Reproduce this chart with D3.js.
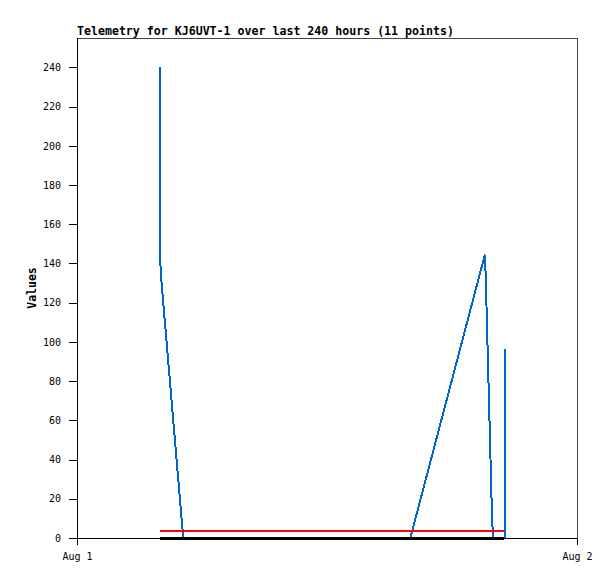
<!DOCTYPE html>
<html>
<head>
<meta charset="utf-8">
<script src="https://cdn.jsdelivr.net/npm/d3@7"></script>
<style>
  html, body { margin: 0; padding: 0; background: #fff; }
  svg { display: block; }
  text { font-family: "DejaVu Sans Mono", "Liberation Mono", monospace; }
</style>
</head>
<body>
<svg id="chart" width="615" height="579"></svg>
<script>
// ---- data (hours after Aug 1 00:00) ----
const titleText = "Telemetry for KJ6UVT-1 over last 240 hours (11 points)";
const yLabel = "Values";
const xTickLabels = ["Aug 1", "Aug 2"];
const yTicks = [0, 20, 40, 60, 80, 100, 120, 140, 160, 180, 200, 220, 240];

const blueHours  = [4.00, 4.00, 4.02, 5.10, 16.00, 19.58, 19.62, 19.92, 19.97, 20.55, 20.55];
const blueValues = [240,  141,  135,  0,    0,     144.5, 133,   11,    0,     0,     96.5];

const redHours   = [4.00, 20.50];
const redValues  = [3.6,  3.6];

const blackHours  = [4.00, 20.50];
const blackValues = [0,    0];

// ---- layout ----
const margin = { left: 77, top: 38, right: 38, bottom: 41 };
const W = 615, H = 579;
const iw = W - margin.left - margin.right;   // 500
const ih = H - margin.top - margin.bottom;   // 500

const t0 = Date.UTC(2023, 7, 1);
const toDate = h => new Date(t0 + h * 3600 * 1000);

const x = d3.scaleUtc().domain([toDate(0), toDate(24)]).range([0, iw]);
const y = d3.scaleLinear().domain([0, 255]).range([ih, 0]);

const svg = d3.select("#chart");
const g = svg.append("g").attr("transform", `translate(${margin.left},${margin.top})`);

// frame top/right
g.append("path")
  .attr("d", `M0.5,0.5H${iw + 0.5}V${ih}`)
  .attr("fill", "none").attr("stroke", "#444").attr("stroke-width", 1)
  .attr("shape-rendering", "crispEdges");

// series
const line = d3.line().x(d => x(toDate(d[0]))).y(d => y(d[1]));
function series(hours, values, color, width) {
  g.append("path")
    .datum(hours.map((h, i) => [h, values[i]]))
    .attr("d", line)
    .attr("fill", "none")
    .attr("stroke", color)
    .attr("stroke-width", width)
    .attr("stroke-linejoin", "miter")
    .attr("shape-rendering", "crispEdges");
}
series(blueHours, blueValues, "#0066cc", 2);
series(redHours, redValues, "#ff0000", 2);
series(blackHours, blackValues, "#000000", 3);

// y axis
const yAxis = d3.axisLeft(y).tickValues(yTicks).tickSize(8).tickPadding(8);
const ya = g.append("g").attr("shape-rendering", "crispEdges").call(yAxis);
ya.select(".domain").attr("d", `M0.5,${ih + 7}V0`).attr("stroke", "#000");
ya.selectAll(".tick line").attr("stroke", "#000");
ya.selectAll(".tick text").attr("font-size", 10).attr("fill", "#000")
  .attr("font-family", "DejaVu Sans Mono, monospace");

// x axis
const xAxis = d3.axisBottom(x).tickValues([toDate(0), toDate(24)])
  .tickFormat((d, i) => xTickLabels[i]).tickSize(7).tickPadding(8);
const xa = g.append("g").attr("transform", `translate(0,${ih})`)
  .attr("shape-rendering", "crispEdges").call(xAxis);
xa.select(".domain").attr("d", `M0,0.5H${iw}`).attr("stroke", "#000");
xa.selectAll(".tick line").attr("stroke", "#000");
xa.selectAll(".tick text").attr("font-size", 10).attr("fill", "#000")
  .attr("font-family", "DejaVu Sans Mono, monospace");

// title
svg.append("text")
  .attr("x", margin.left).attr("y", 35)
  .attr("font-size", 11.6).attr("font-weight", "bold").attr("fill", "#000")
  .text(titleText);

// y label
svg.append("text")
  .attr("transform", `translate(36,${margin.top + ih / 2}) rotate(-90)`)
  .attr("text-anchor", "middle")
  .attr("font-size", 11.5).attr("font-weight", "bold").attr("fill", "#000")
  .text(yLabel);
</script>
</body>
</html>
